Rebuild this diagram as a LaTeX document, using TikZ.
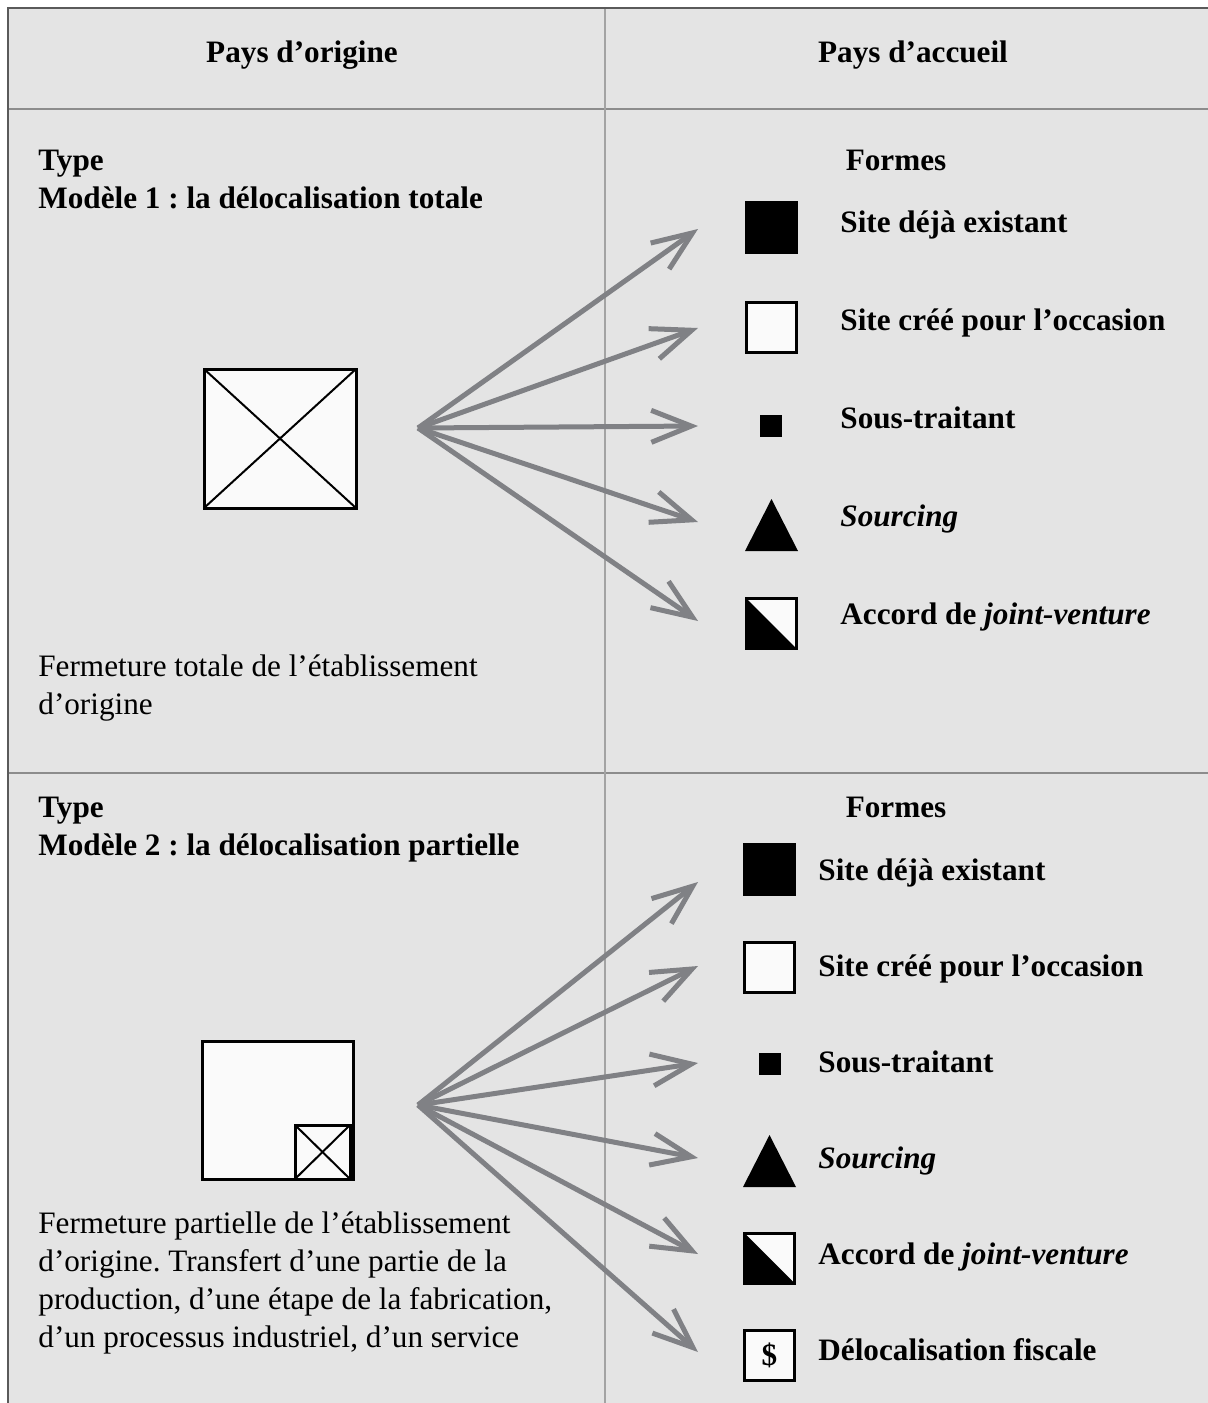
\documentclass[tikz,border=0pt]{standalone}
\usepackage{fontspec}
\setmainfont{Liberation Serif}
\usepackage{xcolor}
\usetikzlibrary{arrows.meta}
\frenchspacing

\definecolor{panelgray}{RGB}{228,228,228}
\definecolor{rulegray}{RGB}{140,140,140}
\definecolor{framegray}{RGB}{90,90,90}
\definecolor{arrgray}{RGB}{128,129,133}
\definecolor{paper}{RGB}{250,250,250}

\begin{document}
\begin{tikzpicture}[x=0.5pt,y=-0.5pt,
    txt/.style={inner sep=0pt, font=\fontsize{15.6pt}{19pt}\selectfont},
    hd/.style={txt, font=\fontsize{15.6pt}{19pt}\selectfont\bfseries},
    lbl/.style={hd, anchor=base west},
    blkbox/.style={draw=black, fill=black, line width=1.5pt, minimum size=25pt, inner sep=0pt, outer sep=0pt},
    whtbox/.style={blkbox, fill=paper},
    dotbox/.style={fill=black, minimum size=11pt, inner sep=0pt, outer sep=0pt},
    crossbox/.style={draw=black, fill=paper, line width=1.5pt, inner sep=0pt, outer sep=0pt},
    arr/.style={draw=arrgray, line width=2.5pt, -{Straight Barb[length=20pt,width=16pt]}}]
    \useasboundingbox (0,0) rectangle (1208,1403);

    % Table
    \fill[panelgray] (8,8) rectangle (1208,1403);
    \draw[rulegray, line width=1pt] (8,109) -- (1208,109);
    \draw[rulegray, line width=1pt] (8,773) -- (1208,773);
    \draw[rulegray!80, line width=0.8pt] (605,8) -- (605,1403);
    \draw[framegray, line width=1pt] (8,1403) -- (8,8) -- (1208,8);

    \node[hd] (hdorig) at (302,55) {Pays d’origine};
    \node[hd] (hdacc) at (913,55) {Pays d’accueil};

    % Model 1
    \node[lbl] (type1) at (38,170) {Type};
    \node[lbl] (mod1) at (38,208) {Modèle 1 : la délocalisation totale};
    \node[hd, anchor=base] (formes1) at (896,170) {Formes};

    \node[crossbox, minimum width=76pt, minimum height=69.5pt] (orig1) at (280,438.5) {};
    \draw[line width=1pt] (orig1.north west) -- (orig1.south east);
    \draw[line width=1pt] (orig1.north east) -- (orig1.south west);

    \node[txt, anchor=north west, align=left] (ferm1) at (38,654)
        {Fermeture totale de l’établissement\\d’origine};

    \node[blkbox] (exist1) at (771.5,227.5) {};
    \node[whtbox] (cree1) at (771.5,327) {};
    \node[dotbox] (sous1) at (771,425.5) {};
    \fill (745,551) -- (798,551) -- (771.5,499) -- cycle;
    \node[whtbox] (jv1) at (771.5,623.5) {};
    \fill (jv1.north west) -- (jv1.south east) -- (jv1.south west) -- cycle;
    \draw[line width=1.5pt] (jv1.north west) rectangle (jv1.south east);

    \node[lbl] (lexist1) at (840,232) {Site déjà existant};
    \node[lbl] (lcree1) at (840,330) {Site créé pour l’occasion};
    \node[lbl] (lsous1) at (840,428) {Sous-traitant};
    \node[lbl] (lsrc1) at (840,526) {\textit{Sourcing}};
    \node[lbl] (ljv1) at (840,624) {Accord de \textit{joint-venture}};

    \coordinate (src1) at (418,428);
    \coordinate (to11) at (698,229);
    \coordinate (to12) at (698,328);
    \coordinate (to13) at (698,426);
    \coordinate (to14) at (698,522);
    \coordinate (to15) at (698,621);
    \draw[arr] (src1) -- (to11);
    \draw[arr] (src1) -- (to12);
    \draw[arr] (src1) -- (to13);
    \draw[arr] (src1) -- (to14);
    \draw[arr] (src1) -- (to15);

    % Model 2
    \node[lbl] (type2) at (38,817) {Type};
    \node[lbl] (mod2) at (38,855) {Modèle 2 : la délocalisation partielle};
    \node[hd, anchor=base] (formes2) at (896,817) {Formes};

    \node[crossbox, minimum width=75.5pt, minimum height=69pt] (orig2) at (277.5,1110) {};
    \node[crossbox, minimum width=27.5pt, minimum height=27pt, anchor=south east] (part2)
        at ([xshift=-1.5pt,yshift=0pt]orig2.south east) {};
    \draw[line width=1pt] (part2.north west) -- (part2.south east);
    \draw[line width=1pt] (part2.north east) -- (part2.south west);

    \node[txt, anchor=north west, align=left] (ferm2) at (38,1211)
        {Fermeture partielle de l’établissement\\
         d’origine. Transfert d’une partie de la\\
         production, d’une étape de la fabrication,\\
         d’un processus industriel, d’un service};

    \node[blkbox] (exist2) at (769.5,869.5) {};
    \node[whtbox] (cree2) at (769.5,967) {};
    \node[dotbox] (sous2) at (769.5,1064) {};
    \fill (743,1187) -- (796,1187) -- (769.5,1135) -- cycle;
    \node[whtbox] (jv2) at (769.5,1258) {};
    \fill (jv2.north west) -- (jv2.south east) -- (jv2.south west) -- cycle;
    \draw[line width=1.5pt] (jv2.north west) rectangle (jv2.south east);
    \node[whtbox, font=\fontsize{15.6pt}{19pt}\selectfont\bfseries] (fisc2) at (769.5,1355) {\$};

    \node[lbl] (lexist2) at (818,880) {Site déjà existant};
    \node[lbl] (lcree2) at (818,976) {Site créé pour l’occasion};
    \node[lbl] (lsous2) at (818,1072) {Sous-traitant};
    \node[lbl] (lsrc2) at (818,1168) {\textit{Sourcing}};
    \node[lbl] (ljv2) at (818,1264) {Accord de \textit{joint-venture}};
    \node[lbl] (lfisc2) at (818,1360) {Délocalisation fiscale};

    \coordinate (src2) at (418,1105);
    \coordinate (to21) at (698,882);
    \coordinate (to22) at (698,966);
    \coordinate (to23) at (698,1063);
    \coordinate (to24) at (698,1158);
    \coordinate (to25) at (698,1254);
    \coordinate (to26) at (698,1352);
    \draw[arr] (src2) -- (to21);
    \draw[arr] (src2) -- (to22);
    \draw[arr] (src2) -- (to23);
    \draw[arr] (src2) -- (to24);
    \draw[arr] (src2) -- (to25);
    \draw[arr] (src2) -- (to26);
\end{tikzpicture}
\end{document}
